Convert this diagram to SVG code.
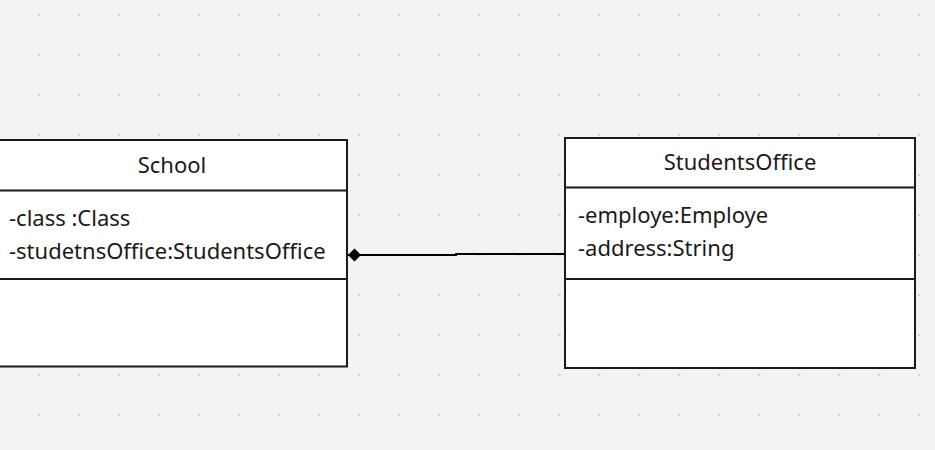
<svg xmlns="http://www.w3.org/2000/svg" width="935" height="450" viewBox="0 0 935 450">
<defs>
<pattern id="dots" x="-1.5" y="14" width="40" height="40" patternUnits="userSpaceOnUse">
<rect x="0" y="0" width="2" height="2" fill="#cfcfd2"/>
</pattern>
<marker id="diamond" viewBox="0 0 14 14" refX="0.5" refY="7" markerWidth="14" markerHeight="14" markerUnits="userSpaceOnUse" orient="auto">
<path d="M0.5,7 L7,0.5 L13.5,7 L7,13.5 Z" fill="#000"/>
</marker>
<style>
.box{fill:#fff;stroke:#1a1a1a;stroke-width:2}
.div{stroke:#1a1a1a;stroke-width:2}
.t{font-family:"Noto Sans","DejaVu Sans",sans-serif;font-size:22px;fill:#1a1a1a}
.c{text-anchor:middle}
.conn{fill:none;stroke:#000;stroke-width:2}
</style>
</defs>
<rect width="935" height="450" fill="#f3f3f5"/>
<rect width="935" height="450" fill="url(#dots)"/>
<g id="School">
<rect class="box" x="-3" y="140" width="350" height="226.5"/>
<line class="div" x1="-3" y1="190.5" x2="347" y2="190.5"/>
<line class="div" x1="-3" y1="279" x2="347" y2="279"/>
<text class="t c" x="172" y="173">School</text>
<text class="t" x="9" y="226">-class :Class</text>
<text class="t" x="9" y="258.5">-studetnsOffice:StudentsOffice</text>
</g>
<g id="StudentsOffice">
<rect class="box" x="565" y="138" width="350" height="230"/>
<line class="div" x1="565" y1="187.5" x2="915" y2="187.5"/>
<line class="div" x1="565" y1="279" x2="915" y2="279"/>
<text class="t c" x="740" y="170">StudentsOffice</text>
<text class="t" x="578" y="223">-employe:Employe</text>
<text class="t" x="578" y="256">-address:String</text>
</g>
<g id="connectors">
<path class="conn" d="M348,255 L456,255 L456,254 L565,254" marker-start="url(#diamond)"/>
</g>
</svg>
